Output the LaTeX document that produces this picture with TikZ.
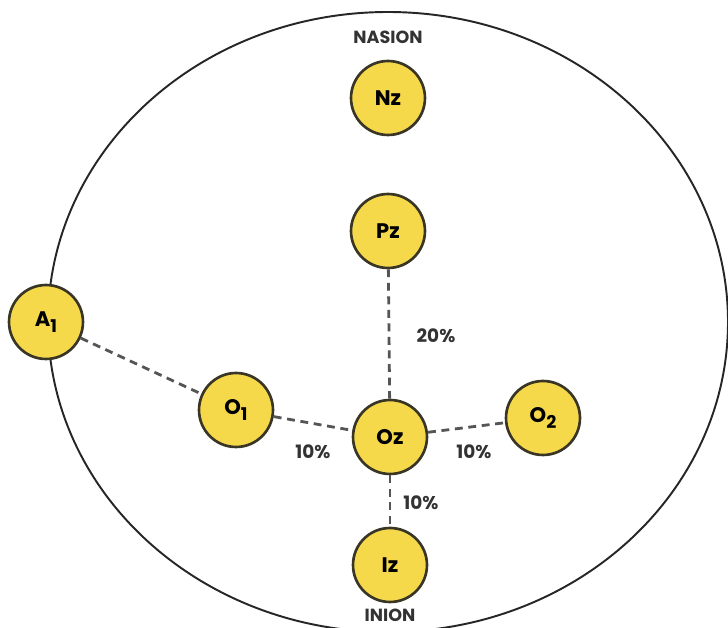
\documentclass[tikz,border=0pt]{standalone}
\usepackage{fontspec}
\setmainfont{Poppins}
\usetikzlibrary{calc}
\definecolor{elecfill}{HTML}{F6D94B}
\definecolor{elecline}{HTML}{3A3626}
\definecolor{linkgray}{HTML}{555555}
\newcommand{\elsub}[1]{\raisebox{-0.45ex}{\fontsize{10}{12}\selectfont #1}}
\tikzset{every node/.style={font=\bfseries},
elec/.style={circle,draw=elecline,line width=1.5pt,fill=elecfill,minimum size=1.48cm,inner sep=0pt,font=\fontsize{12}{14}\selectfont\bfseries},
link/.style={draw=linkgray,line width=1.6pt,dash pattern=on 4.5pt off 3.2pt},
pct/.style={font=\fontsize{10.5}{12}\selectfont\bfseries,text=black!80}}
\begin{document}
\begin{tikzpicture}[x=0.02cm,y=-0.02cm]
\useasboundingbox (0,0) rectangle (728,628);
\draw[line width=1.1pt,draw=black!85] (388,322) ellipse[x radius=340,y radius=310];
\node[font=\fontsize{10}{12}\selectfont\bfseries,text=black!80] (nasion) at (388,37){NASION};
\node[font=\fontsize{10}{12}\selectfont\bfseries,text=black!80] (inion) at (390,615){INION};
\node[elec] (Nz) at (388,98){Nz};\node[elec] (Pz) at (388,231){Pz};
\node[elec] (A1) at (46,322){A\elsub{1}};\node[elec] (O1) at (236,410){O\elsub{1}};
\node[elec] (Oz) at (390,437){Oz};\node[elec] (O2) at (543,418){O\elsub{2}};
\node[elec] (Iz) at (390,565){Iz};
\draw[link] (A1)--(O1);\draw[link] (O1)--(Oz);\draw[link] (Oz)--(O2);
\draw[link] (Pz)--(Oz);\draw[link] (Oz)--(Iz);
\node[pct] (p20) at (436,336){20\%};\node[pct] (p10a) at (313,452){10\%};
\node[pct] (p10b) at (474,452){10\%};\node[pct] (p10c) at (421,503){10\%};
\end{tikzpicture}
\end{document}
